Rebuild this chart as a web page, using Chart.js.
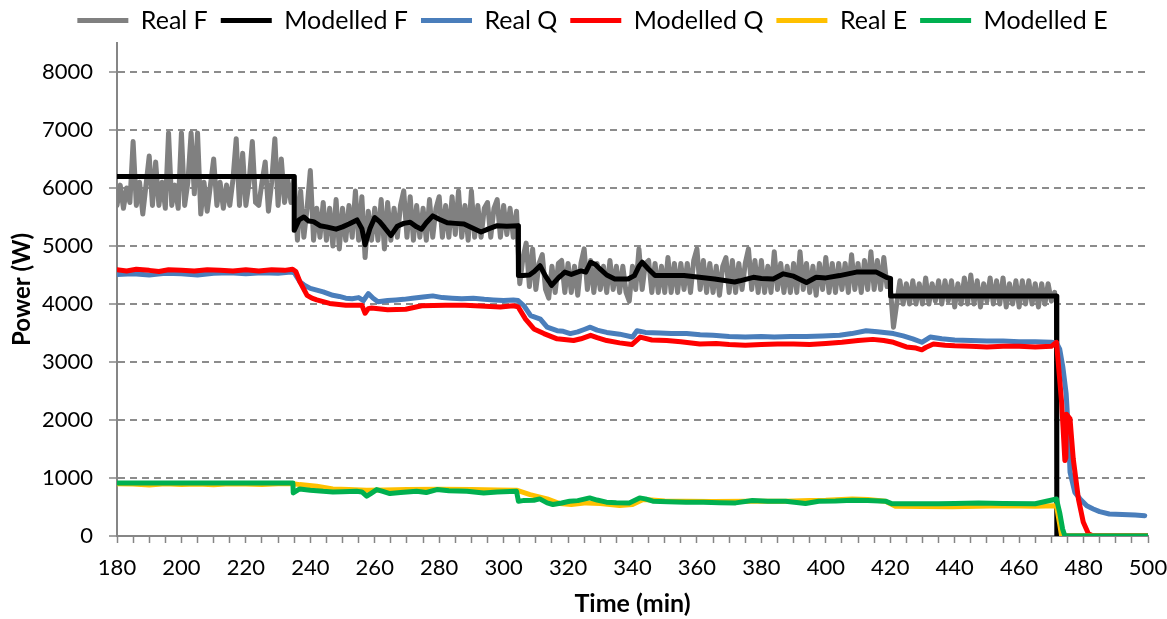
<!DOCTYPE html>
<html>
<head>
<meta charset="utf-8">
<title>Power over time</title>
<script src="https://cdn.jsdelivr.net/npm/chart.js@4/dist/chart.umd.min.js"></script>
<style>
  html, body { margin: 0; padding: 0; background: #fff; }
  #wrap { width: 1167px; height: 619px; }
</style>
</head>
<body>
<div id="wrap"><canvas id="powerChart" width="1167" height="619"></canvas></div>
<script>
// Real F is logged once a minute starting at realFStart
var realFStart = 180;
var realFPower = [
  // 180 - 235
  5700, 6050, 5650, 6000, 5750, 6800, 5700, 6100, 5550, 6050,
  6550, 5700, 6450, 5700, 6100, 5650, 6950, 5700, 6050, 5650,
  6950, 5700, 6100, 6950, 5900, 6950, 5550, 6100, 5600, 6050,
  6500, 5700, 6100, 5650, 6050, 5700, 6150, 6850, 5700, 6600,
  5700, 6100, 6800, 5750, 5700, 6100, 6450, 5600, 6100, 6850,
  5700, 6500, 5750, 6150, 5750, 6200,
  // 236 - 304
  5100, 5950, 5150, 5650, 6300, 5100, 5650, 5150, 5750, 5100,
  5650, 5000, 5800, 4950, 5650, 5100, 5700, 5150, 5950, 5100,
  5850, 4800, 5600, 5100, 5650, 5100, 5800, 4950, 5750, 5100,
  5650, 5150, 5700, 5950, 5150, 5850, 5100, 5700, 5150, 5650,
  5100, 5800, 5150, 5650, 5850, 5150, 5700, 5150, 5850, 5200,
  5950, 5150, 5700, 5100, 5950, 5150, 5700, 5150, 5650, 5750,
  5150, 5650, 5800, 5150, 5700, 5200, 5650, 5150, 5600,
  // 305 - 420
  4350, 4800, 5050, 4300, 4950, 4250, 4700, 4850, 4250, 4100,
  4650, 4200, 4700, 4750, 4200, 4700, 4200, 4650, 4150, 4700,
  4950, 4250, 4750, 4200, 4700, 4250, 4650, 4200, 4750, 4250,
  4650, 4200, 4650, 4200, 4050, 4650, 4250, 4950, 4250, 4700,
  4750, 4200, 4700, 4200, 4650, 4200, 4800, 4200, 4700, 4200,
  4700, 4250, 4700, 4200, 4750, 4950, 4250, 4750, 4200, 4700,
  4200, 4650, 4150, 4650, 4800, 4200, 4750, 4200, 4700, 4250,
  4700, 4950, 4250, 4750, 4200, 4750, 4200, 4650, 4200, 4900,
  4250, 4700, 4200, 4650, 4200, 4700, 4200, 4900, 4250, 4700,
  4200, 4650, 4150, 4700, 4250, 4800, 4200, 4700, 4200, 4700,
  4250, 4700, 4200, 4850, 4250, 4700, 4200, 4750, 4250, 4900,
  4250, 4750, 4250, 4800, 4300, 4300,
  // 421 - 471
  3600, 4000, 4400, 4000, 4350, 4000, 4400, 4000, 4350, 4000,
  4450, 4000, 4350, 4050, 4400, 4000, 4400, 4050, 4400, 3950,
  4350, 4000, 4450, 4000, 4500, 4000, 4400, 3950, 4350, 4050,
  4450, 4000, 4400, 4000, 4450, 3950, 4350, 4000, 4400, 3950,
  4400, 4000, 4400, 4000, 4350, 3950, 4350, 4000, 4350, 4050,
  4200
];

// [time (min), power (W)]
var modelledF = [
  [180, 6200], [235, 6200], [235, 5270], [236.5, 5450], [238, 5500], [239.5, 5430],
  [241, 5420], [243, 5350], [245, 5330], [248, 5290], [250, 5330], [252, 5380],
  [254.5, 5450], [256, 5300], [257, 5020], [258.5, 5300], [260, 5490], [261.5, 5420],
  [263, 5320], [265, 5180], [267, 5340], [269, 5390], [271, 5410], [273, 5330],
  [274.5, 5290], [276, 5400], [278, 5520], [280, 5460], [282.5, 5400], [285, 5390],
  [287.7, 5380], [290, 5320], [293, 5240], [295.5, 5300], [298, 5350], [301, 5340],
  [304.5, 5350], [304.6, 4490], [306, 4490], [308, 4500], [309.5, 4560], [311.3, 4660],
  [313, 4480], [314.9, 4320], [317, 4450], [319, 4550], [321, 4510], [322.5, 4540],
  [324, 4570], [325.5, 4550], [327, 4720], [328.5, 4680], [330, 4600], [332, 4500],
  [334.5, 4430], [338.6, 4430], [340.6, 4490], [342, 4650], [343, 4720], [345, 4600],
  [347, 4490], [356, 4490], [365.5, 4430], [371.7, 4380], [373.3, 4400], [377.5, 4460],
  [380, 4440], [383.7, 4430], [386.8, 4520], [390, 4480], [394, 4370], [397, 4460],
  [400, 4450], [404.3, 4490], [409.5, 4550], [415.7, 4550], [418.8, 4460], [420, 4440],
  [420.1, 4140], [471.6, 4140], [471.7, 0], [500, 0]
];

var realQ = [
  [180, 4510], [185, 4520], [190, 4500], [195, 4530], [200, 4520], [205, 4500],
  [210, 4530], [215, 4540], [220, 4520], [225, 4540], [230, 4530], [234, 4550],
  [235, 4540], [236.8, 4380], [238, 4330], [240, 4270], [242, 4240], [244, 4210],
  [247, 4150], [249, 4130], [251, 4100], [253, 4090], [255, 4110], [256.5, 4060],
  [258, 4180], [259.5, 4100], [261, 4040], [264, 4060], [266.6, 4070], [269, 4080],
  [271.7, 4100], [275, 4120], [278, 4140], [281, 4110], [284, 4100], [287, 4090],
  [290.6, 4100], [294, 4080], [296.8, 4070], [300, 4060], [303, 4070], [304.5, 4060],
  [306.3, 3970], [308.4, 3800], [311.4, 3740], [313.5, 3600], [316.6, 3540], [318.5, 3530],
  [320.7, 3490], [323, 3520], [325, 3560], [326.9, 3600], [329, 3550], [332, 3510],
  [336, 3480], [340, 3430], [341.4, 3540], [344, 3510], [348.6, 3500], [352, 3490],
  [356.8, 3490], [361, 3470], [365, 3460], [370, 3440], [375, 3430], [380, 3440],
  [384, 3430], [389, 3440], [394, 3440], [399, 3450], [404.3, 3460], [408, 3490],
  [412.5, 3540], [416, 3520], [421, 3490], [424, 3450], [427, 3400], [429.8, 3340],
  [432.4, 3430], [436, 3400], [440, 3380], [445, 3370], [450, 3360], [455, 3360],
  [460, 3350], [465, 3350], [470, 3340], [471.6, 3330], [472.6, 3220], [473.6, 2900],
  [474.6, 2450], [475.3, 1800], [475.8, 1100], [477.3, 750], [478.9, 640], [481, 520],
  [483, 466], [485, 420], [488, 379], [492, 370], [496, 360], [499, 350]
];

var modelledQ = [
  [180, 4590], [183, 4570], [186, 4600], [190, 4580], [193, 4560], [196, 4590],
  [200, 4580], [204, 4570], [208, 4590], [212, 4580], [216, 4570], [220, 4590],
  [224, 4570], [228, 4590], [232, 4580], [234.5, 4600], [235.5, 4560], [236.8, 4380],
  [239, 4150], [240.5, 4100], [242, 4070], [246, 4010], [251, 3980], [256, 3980],
  [257, 3840], [258, 3920], [259, 3930], [264, 3900], [269.6, 3910], [274.6, 3970],
  [282, 3980], [288, 3980], [294.4, 3960], [299, 3950], [303, 3970], [304.5, 3950],
  [306.8, 3740], [309.4, 3570], [312.5, 3490], [316.6, 3400], [321.7, 3370], [324, 3400],
  [327, 3460], [329, 3420], [332, 3370], [336, 3330], [339.8, 3300], [342.4, 3430],
  [346, 3380], [350.6, 3370], [355, 3350], [360.9, 3310], [366, 3320], [370, 3300],
  [375, 3290], [380, 3300], [385, 3310], [390, 3310], [395, 3300], [400, 3320],
  [405, 3340], [410, 3370], [414.6, 3390], [418, 3370], [421, 3340], [425, 3260],
  [428, 3240], [429.8, 3210], [431, 3250], [433.4, 3310], [437, 3290], [440, 3280],
  [445, 3270], [450, 3260], [455, 3270], [460, 3270], [465, 3260], [470, 3270],
  [471.6, 3340], [473.2, 2300], [474.2, 1300], [474.5, 1350], [474.7, 2100], [475.8, 2020],
  [476.8, 1330], [478.4, 640], [479.9, 240], [481.5, 40], [483, 0], [500, 0]
];

var realE = [
  [180, 900], [185, 895], [190, 880], [195, 900], [200, 890], [205, 895],
  [210, 885], [215, 900], [220, 895], [225, 890], [230, 900], [234.7, 900],
  [236.7, 886], [242, 857], [247, 811], [252, 800], [257.5, 789], [263, 795],
  [270, 800], [280, 805], [290, 800], [298, 795], [304, 789], [308.2, 714],
  [313.5, 640], [317.4, 560], [321, 543], [325.7, 571], [330, 560], [336, 526],
  [340, 543], [343.3, 629], [346, 620], [350, 605], [356.6, 600], [365, 596],
  [375, 600], [387.5, 600], [395, 610], [400, 615], [408.2, 640], [413, 630],
  [418.5, 600], [421.6, 514], [430, 510], [439.2, 503], [447.4, 514], [455, 520],
  [465, 515], [471.6, 520], [472.6, 200], [473.2, 0], [500, 0]
];

var modelledE = [
  [180, 914], [234.6, 914], [234.7, 743], [236.7, 811], [240, 790], [244, 770],
  [247, 760], [250, 765], [254.4, 771], [256, 760], [257.5, 686], [259, 740],
  [260.6, 800], [262.5, 770], [264.7, 731], [268, 750], [273, 771], [276, 750],
  [279.3, 800], [283, 780], [288.6, 771], [293.8, 743], [298, 760], [304, 771],
  [304.6, 600], [306, 610], [309.4, 617], [311.2, 640], [313.5, 571], [315.3, 543],
  [318, 570], [320.5, 600], [323, 610], [326.7, 657], [329, 620], [331.9, 583],
  [335, 575], [339, 571], [342.2, 657], [344, 640], [346.3, 600], [351, 590],
  [356.6, 583], [362, 580], [367, 575], [372, 571], [377.2, 611], [382, 600],
  [387.5, 600], [393.7, 560], [397.8, 600], [403, 605], [408.2, 617], [413, 610],
  [418.5, 600], [420.6, 554], [425, 554], [428.8, 554], [435, 556], [440, 560],
  [447.4, 571], [455, 560], [465, 555], [471.6, 638], [472.6, 400], [473.5, 120],
  [474.2, 0], [500, 0]
];

var xTickLabels = [180, 200, 220, 240, 260, 280, 300, 320, 340, 360, 380, 400, 420, 440, 460, 480, 500];
var yTickLabels = [0, 1000, 2000, 3000, 4000, 5000, 6000, 7000, 8000];

var FONT = 'Lato';
var AXIS_GREY = '#868686';

function pairs(list) {
  return list.map(function (p) { return { x: p[0], y: p[1] }; });
}

function series(label, points, color, order) {
  return {
    label: label,
    data: points,
    borderColor: color,
    backgroundColor: color,
    borderWidth: 5,
    borderCapStyle: 'round',
    borderJoinStyle: 'round',
    pointRadius: 0,
    pointHoverRadius: 0,
    tension: 0,
    fill: false,
    order: order
  };
}

var realFPoints = realFPower.map(function (v, i) { return { x: realFStart + i, y: v }; });

new Chart(document.getElementById('powerChart').getContext('2d'), {
  type: 'line',
  data: {
    datasets: [
      // later series sit on top
      series('Real F', realFPoints, '#808080', 6),
      series('Modelled F', pairs(modelledF), '#000000', 5),
      series('Real Q', pairs(realQ), '#4a7ebb', 4),
      series('Modelled Q', pairs(modelledQ), '#ff0000', 3),
      series('Real E', pairs(realE), '#ffc000', 2),
      series('Modelled E', pairs(modelledE), '#00b050', 1)
    ]
  },
  options: {
    responsive: false,
    animation: false,
    events: [],
    layout: { padding: { top: -5, right: 0, bottom: 0, left: 18 } },
    plugins: {
      legend: {
        position: 'top',
        labels: {
          font: { family: FONT, size: 25 },
          color: '#000',
          usePointStyle: true,
          pointStyle: 'line',
          pointStyleWidth: 51,
          padding: 13,
          sort: function (a, b) { return a.datasetIndex - b.datasetIndex; }
        }
      },
      tooltip: { enabled: false }
    },
    scales: {
      x: {
        type: 'linear',
        min: 180,
        max: 500,
        afterFit: function (scale) {
          scale.height = 83;
          scale.paddingRight = 19;
        },
        ticks: {
          stepSize: 5,
          autoSkip: false,
          maxRotation: 0,
          padding: 12,
          color: '#000',
          font: { family: FONT, size: 22 },
          callback: function (v) { return xTickLabels.indexOf(v) >= 0 ? String(v) : ''; }
        },
        grid: {
          drawOnChartArea: false,
          drawTicks: true,
          tickLength: 7,
          tickColor: AXIS_GREY,
          tickWidth: 1.5
        },
        border: { color: AXIS_GREY, width: 2 },
        title: {
          display: true,
          text: 'Time (min)',
          color: '#000',
          font: { family: FONT, size: 25, weight: 'bold' },
          padding: { top: 0, bottom: 0 }
        }
      },
      y: {
        min: 0,
        max: 8500,
        afterFit: function (scale) { scale.width = 99; },
        afterBuildTicks: function (scale) {
          scale.ticks = yTickLabels.map(function (v) { return { value: v }; });
        },
        ticks: {
          padding: 16,
          color: '#000',
          font: { family: FONT, size: 22 },
          callback: function (v) { return String(v); }
        },
        grid: {
          color: function (ctx) {
            return ctx.tick && ctx.tick.value === 0 ? 'rgba(0,0,0,0)' : '#8c8c8c';
          },
          lineWidth: 2,
          tickLength: 8,
          tickColor: AXIS_GREY,
          tickWidth: 1.5,
          tickBorderDash: []
        },
        border: { color: AXIS_GREY, width: 2, dash: [7, 5] },
        title: {
          display: true,
          text: 'Power (W)',
          color: '#000',
          font: { family: FONT, size: 24, weight: 'bold' },
          padding: { top: -10, bottom: 0 }
        }
      }
    }
  }
});
</script>
</body>
</html>
